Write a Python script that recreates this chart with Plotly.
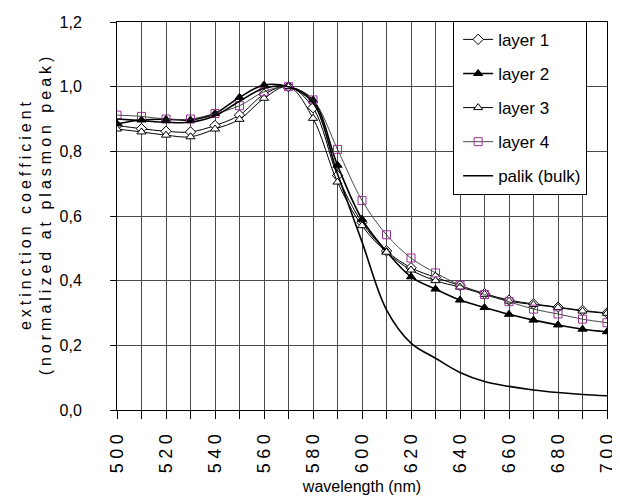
import plotly.graph_objects as go

wavelength = [500, 510, 520, 530, 540, 550, 560, 570, 580, 590, 600,
              610, 620, 630, 640, 650, 660, 670, 680, 690, 700]

layer1 = [0.880, 0.870, 0.862, 0.860, 0.880, 0.912, 0.976, 1.000, 0.935, 0.725, 0.580,
          0.492, 0.440, 0.410, 0.385, 0.360, 0.340, 0.328, 0.318, 0.308, 0.300]
layer2 = [0.885, 0.897, 0.899, 0.897, 0.917, 0.967, 1.005, 1.000, 0.959, 0.757, 0.590,
          0.490, 0.412, 0.374, 0.340, 0.317, 0.296, 0.278, 0.263, 0.250, 0.242]
layer3 = [0.869, 0.860, 0.850, 0.845, 0.869, 0.899, 0.964, 1.000, 0.902, 0.705, 0.570,
          0.488, 0.433, 0.400, 0.380, 0.358, 0.337, 0.326, 0.317, 0.306, 0.299]
layer4 = [0.912, 0.908, 0.900, 0.900, 0.917, 0.941, 0.984, 1.000, 0.959, 0.806, 0.648,
          0.542, 0.470, 0.424, 0.386, 0.357, 0.335, 0.312, 0.297, 0.281, 0.270]
palik = [0.900, 0.895, 0.890, 0.890, 0.910, 0.955, 0.995, 1.000, 0.950, 0.730, 0.520,
         0.310, 0.207, 0.160, 0.116, 0.088, 0.073, 0.062, 0.054, 0.048, 0.044]

x_tickvals = [500, 520, 540, 560, 580, 600, 620, 640, 660, 680, 700]
x_ticktext = ["\u2005".join(str(v)) for v in x_tickvals]
y_tickvals = [0.0, 0.2, 0.4, 0.6, 0.8, 1.0, 1.2]
y_ticktext = ["0,0", "0,2", "0,4", "0,6", "0,8", "1,0", "1,2"]

series_names = ["layer 1", "layer 2", "layer 3", "layer 4", "palik (bulk)"]

def spaced(s):
    return "\u2005".join(s)

ytitle = spaced("extinction coefficient") + "<br>" + spaced("(normalized at plasmon peak)")

fig = go.Figure()

fig.add_trace(go.Scatter(
    x=wavelength, y=layer1, name=series_names[0], legendgroup="g1",
    mode="lines+markers", line=dict(color="black", width=1, shape="spline"),
    marker=dict(symbol="diamond", size=8, color="white", line=dict(color="black", width=1))))
fig.add_trace(go.Scatter(
    x=wavelength, y=layer2, name=series_names[1], legendgroup="g2",
    mode="lines+markers", line=dict(color="black", width=1.6, shape="spline"),
    marker=dict(symbol="triangle-up", size=8, color="black", line=dict(color="black", width=1))))
fig.add_trace(go.Scatter(
    x=wavelength, y=layer3, name=series_names[2], legendgroup="g3",
    mode="lines+markers", line=dict(color="black", width=1, shape="spline"),
    marker=dict(symbol="triangle-up", size=8, color="white", line=dict(color="black", width=1))))
fig.add_trace(go.Scatter(
    x=wavelength, y=layer4, name=series_names[3], legendgroup="g4",
    mode="lines+markers", line=dict(color="#333333", width=0.9, shape="spline"),
    marker=dict(symbol="square-open", size=8, color="#993399", line=dict(color="#993399", width=1))))
fig.add_trace(go.Scatter(
    x=wavelength, y=palik, name=series_names[4], legendgroup="g5",
    mode="lines", line=dict(color="black", width=1.6, shape="spline")))

grid_col = "#4a4a4a"

fig.update_layout(
    width=612, height=496,
    margin=dict(l=109, r=13, t=14, b=94),
    paper_bgcolor="white", plot_bgcolor="white",
    font=dict(family="Liberation Sans, Arial, sans-serif", size=16, color="black"),
    showlegend=True,
    legend=dict(
        x=0.686, y=1.003, xanchor="left", yanchor="top",
        bgcolor="white", bordercolor="black", borderwidth=1,
        font=dict(family="Liberation Sans, Arial, sans-serif", size=17),
        tracegroupgap=9, traceorder="grouped", indentation=4,
    ),
    xaxis=dict(
        automargin=False,
        range=[500, 700], tickmode="array", tickvals=x_tickvals, ticktext=x_ticktext,
        tickangle=-90, ticks="outside", ticklen=8, tickcolor="black",
        tickfont=dict(family="Liberation Sans, Arial, sans-serif", size=18),
        ticklabelstandoff=8,
        showgrid=True, gridcolor=grid_col, gridwidth=1,
        minor=dict(dtick=10, tick0=500, showgrid=True, gridcolor=grid_col, gridwidth=1,
                   ticks="outside", ticklen=8, tickcolor="black"),
        showline=True, linecolor="black", linewidth=1, mirror=True,
        zeroline=False,
        title=dict(text="wavelength (nm)", standoff=8,
                   font=dict(family="Liberation Sans, Arial, sans-serif", size=16)),
    ),
    yaxis=dict(
        automargin=False,
        range=[0, 1.2], tickmode="array", tickvals=y_tickvals, ticktext=y_ticktext,
        ticks="outside", ticklen=6, tickcolor="black",
        tickfont=dict(family="Liberation Sans Narrow, Arial Narrow, Liberation Sans, sans-serif", size=16),
        ticklabelstandoff=25,
        showgrid=True, gridcolor=grid_col, gridwidth=1,
        showline=True, linecolor="black", linewidth=1, mirror=True,
        zeroline=False,
        title=dict(text=ytitle, standoff=3,
                   font=dict(family="Liberation Sans, Arial, sans-serif", size=16)),
    ),
)

fig.write_html("out.html")
